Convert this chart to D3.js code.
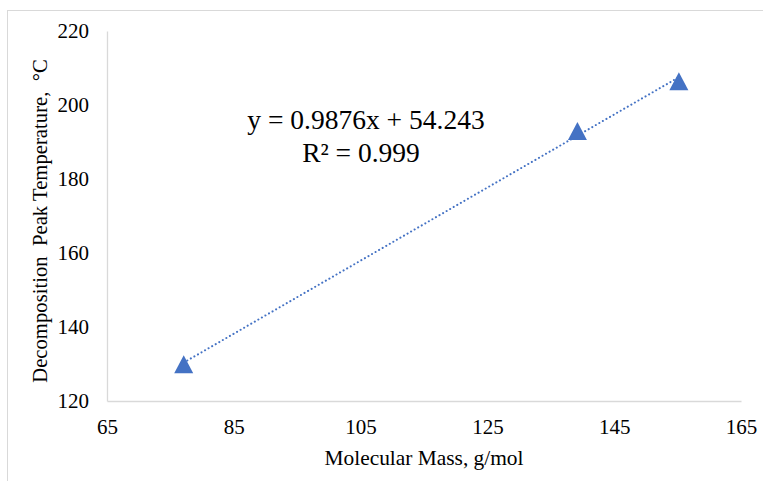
<!DOCTYPE html>
<html>
<head>
<meta charset="utf-8">
<script src="https://cdn.jsdelivr.net/npm/d3@7"></script>
<style>
  body { margin: 0; background: #fff; }
  svg { display: block; font-family: 'Liberation Serif', 'Times New Roman', serif; }
</style>
</head>
<body>
<svg width="763" height="481"></svg>
<script>
// data
const mass = [77.1, 139.2, 155.2];
const peakTemp = [129.9, 193.0, 206.4];
const xTicks = [65, 85, 105, 125, 145, 165];
const yTicks = [120, 140, 160, 180, 200, 220];
const slope = 0.9876, intercept = 54.243;
const eqLabel = 'y = 0.9876x + 54.243';
const r2Label = 'R² = 0.999';

const points = mass.map((m, i) => ({ x: m, y: peakTemp[i] }));

const svg = d3.select('svg');
const blue = '#4472C4';
const axisGrey = '#D9D9D9';

// outer chart area border
svg.append('rect')
  .attr('x', 7.5).attr('y', 10.5)
  .attr('width', 800).attr('height', 500)
  .attr('fill', 'none')
  .attr('stroke', axisGrey);

const margin = { top: 31, right: 22, bottom: 80, left: 107 },
  width = 763 - margin.left - margin.right,
  height = 481 - margin.top - margin.bottom;

const xScale = d3.scaleLinear().domain([65, 165]).range([0, width]);
const yScale = d3.scaleLinear().domain([120, 220]).range([height, 0]);

const g = svg.append('g')
  .attr('transform', 'translate(' + margin.left + ',' + margin.top + ')');

g.append('g')
  .attr('class', 'x-axis')
  .attr('transform', 'translate(0,' + height + ')')
  .call(d3.axisBottom(xScale).tickValues(xTicks).tickSize(0).tickPadding(18));

g.append('g')
  .attr('class', 'y-axis')
  .call(d3.axisLeft(yScale).tickValues(yTicks).tickSize(0).tickPadding(18));

g.selectAll('.domain').attr('stroke', axisGrey).attr('stroke-width', 1.3);
g.selectAll('.tick text')
  .attr('fill', '#000')
  .style('font-size', '21px')
  .style('font-family', "'Liberation Serif', serif");

// trendline from fitted equation
const xr = d3.extent(mass);
g.append('path')
  .datum(xr.map(x => ({ x: x, y: slope * x + intercept })))
  .attr('fill', 'none')
  .attr('stroke', blue)
  .attr('stroke-width', 2)
  .attr('stroke-linecap', 'round')
  .attr('stroke-dasharray', '0.1,4')
  .attr('d', d3.line().x(d => xScale(d.x)).y(d => yScale(d.y)));

// triangle markers
const tw = 19, th = 18;
g.selectAll('.marker')
  .data(points)
  .enter()
  .append('path')
  .attr('class', 'marker')
  .attr('fill', blue)
  .attr('transform', d => 'translate(' + xScale(d.x) + ',' + yScale(d.y) + ')')
  .attr('d', `M0,${-th / 2}L${tw / 2},${th / 2}L${-tw / 2},${th / 2}Z`);

// equation label
svg.append('text')
  .attr('x', 366).attr('y', 129)
  .attr('text-anchor', 'middle')
  .style('font-size', '27.5px')
  .text(eqLabel);
svg.append('text')
  .attr('x', 361).attr('y', 162)
  .attr('text-anchor', 'middle')
  .style('font-size', '27.5px')
  .text(r2Label);

// axis titles
svg.append('text')
  .attr('x', 424).attr('y', 465)
  .attr('text-anchor', 'middle')
  .style('font-size', '21.4px')
  .text('Molecular Mass, g/mol');

svg.append('text')
  .attr('transform', 'translate(47,221) rotate(-90)')
  .attr('text-anchor', 'middle')
  .style('font-size', '20.7px')
  .style('white-space', 'pre')
  .text('Decomposition  Peak Temperature,  °C');
</script>
</body>
</html>
